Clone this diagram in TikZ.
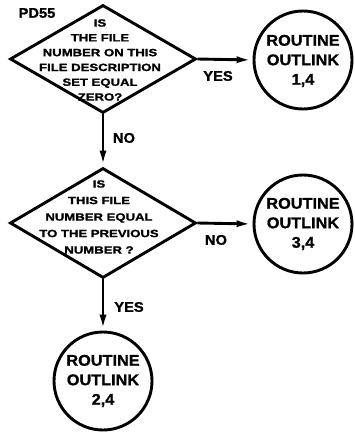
\documentclass[tikz,border=0pt]{standalone}
\usepackage{fontspec}
\usetikzlibrary{shapes.geometric,arrows.meta}
% hand-lettered look: heavy sans, stretched a little
\newfontfamily\boxletters{Liberation Sans}[FakeStretch=1.25,FakeBold=1.5]
\newfontfamily\circletters{Liberation Sans}[FakeStretch=1.05,FakeBold=1]
\newfontfamily\tagletters{Liberation Sans}[FakeStretch=1.05,FakeBold=1]
\begin{document}
\begin{tikzpicture}[x=1pt,y=-1pt,
  line width=2.9pt,
  decision/.style={draw,diamond,inner sep=0pt,minimum width=186pt,minimum height=#1},
  decisiontext/.style={align=center,inner sep=0pt,
    font=\boxletters\bfseries\fontsize{10.5}{#1}\selectfont},
  exitbox/.style={draw,circle,inner sep=0pt,minimum size=98pt},
  exittext/.style={align=center,inner sep=0pt,
    font=\circletters\bfseries\fontsize{15.5}{19.5}\selectfont},
  tag/.style={inner sep=0pt,font=\tagletters\bfseries\fontsize{14}{14}\selectfont},
  flow/.style={-{Latex[length=16pt,width=7pt]}}]
\useasboundingbox (0,0) rectangle (354,436);

% first test
\node[decision=108pt] (q1) at (103,59) {};
\node[decisiontext=14.8pt] (q1t) at (100,60)
  {IS\\THE FILE\\NUMBER ON THIS\\FILE DESCRIPTION\\SET EQUAL\\ZERO?};
\node[tag] (id) at (37,13) {PD55};

% second test
\node[decision=110pt] (q2) at (103,223) {};
\node[decisiontext=16.5pt] (q2t) at (99,217)
  {IS\\THIS FILE\\NUMBER EQUAL\\TO THE PREVIOUS\\NUMBER ?};

% exits
\node[exitbox] (r1) at (303,60) {};
\node[exittext] (r1t) at (303,61) {ROUTINE\\OUTLINK\\1,4};
\node[exitbox] (r2) at (303,224) {};
\node[exittext] (r2t) at (303,224) {ROUTINE\\OUTLINK\\3,4};
\node[exitbox] (r3) at (103,381) {};
\node[exittext] (r3t) at (103,381) {ROUTINE\\OUTLINK\\2,4};

% connectors
\draw[flow] (q1.east) -- (r1.west);
\draw[flow] (q1.south) -- (q2.north);
\draw[flow] (q2.east) -- (r2.west);
\draw[flow] (q2.south) -- (r3.north);

% branch labels
\node[tag] (yes1) at (218,76) {YES};
\node[tag] (no1) at (124,138) {NO};
\node[tag] (no2) at (216,240) {NO};
\node[tag] (yes2) at (129,307) {YES};
\end{tikzpicture}
\end{document}
